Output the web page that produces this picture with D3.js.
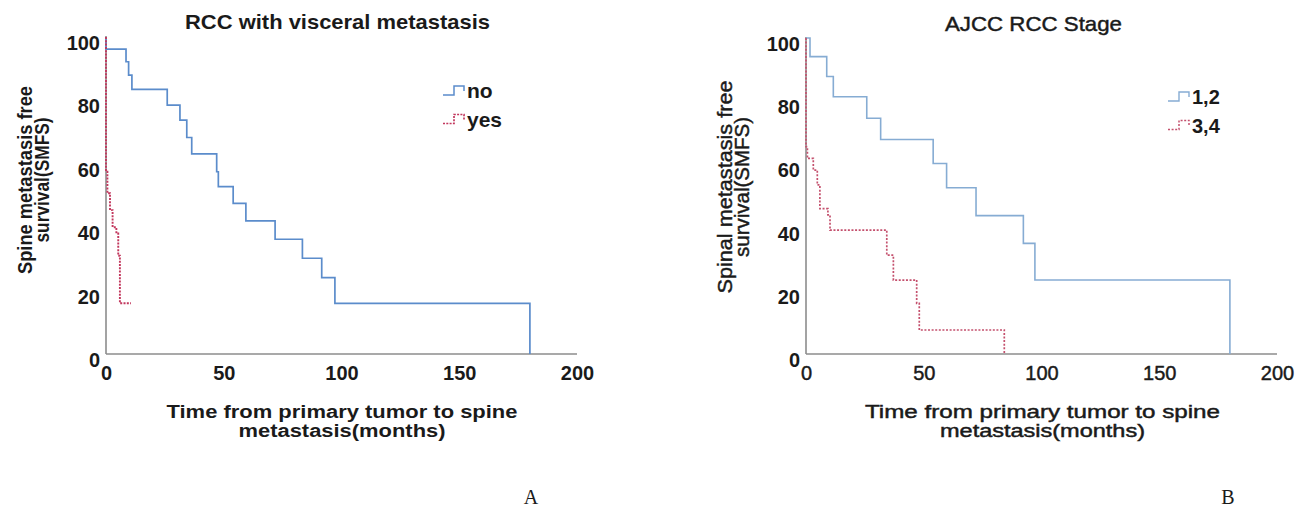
<!DOCTYPE html>
<html>
<head>
<meta charset="utf-8">
<script src="https://cdn.jsdelivr.net/npm/d3@7"></script>
<style>
  html, body { margin: 0; padding: 0; background: #fff; }
  svg { display: block; }
  text { font-family: "Liberation Sans", Arial, sans-serif; fill: #1a1a1a; }
</style>
</head>
<body>
<svg id="chart" width="1308" height="509"></svg>
<script>
// ---------------- DATA ----------------
// Panel A: RCC with visceral metastasis (Kaplan-Meier steps: time, survival from that time)
const noTimes  = [0, 0, 8.5, 9.6, 11, 26, 31.4, 34.3, 36.4, 47, 47.7, 54, 59.4, 71.8, 83.4, 91.6, 97.2, 180];
const noSurv   = [100, 96.2, 92.2, 88, 83.5, 78.5, 73.8, 68.3, 63.1, 57.5, 52.8, 47.5, 42, 36.2, 30.2, 24.1, 16, 0];
const yesTimes = [0, 0, 0.6, 1.7, 2.8, 4.4, 5.2, 5.9, 10.6];
const yesSurv  = [100, 57.5, 50.7, 45.4, 40, 38, 31, 16, 16];

// Panel B: AJCC RCC Stage
const s12Times = [0, 1.7, 8.8, 11.6, 25.8, 31.7, 54, 59.7, 72.2, 92.3, 97.2, 180];
const s12Surv  = [100, 94.1, 87.8, 81.4, 74.6, 67.9, 60.3, 52.6, 43.8, 35, 23.4, 0];
const s34Times = [0, 0, 0.6, 3.1, 4.8, 5.9, 9.3, 10.2, 34.3, 37.1, 47, 48.1, 84.2];
const s34Surv  = [100, 65.6, 61.9, 58.2, 53.5, 46, 44, 39.2, 31.3, 23.4, 16, 7.6, 0];

const xTicks = [0, 50, 100, 150, 200];
const yTicks = [0, 20, 40, 60, 80, 100];

const titleA = "RCC with visceral metastasis";
const titleB = "AJCC RCC Stage";
const legendA = ["no", "yes"];
const legendB = ["1,2", "3,4"];
const yTitleA = ["Spine metastasis free", "survival(SMFS)"];
const yTitleB = ["Spinal metastasis free", "survival(SMFS)"];
const xTitle = ["Time from primary tumor to spine", "metastasis(months)"];

// ---------------- DRAW ----------------
const svg = d3.select("#chart");

function zip(t, s) { return t.map((d, i) => [d, s[i]]); }

function heavy(sel, w) {
  if (w > 0) sel.attr("stroke", "#1a1a1a").attr("stroke-width", w).attr("paint-order", "stroke");
  return sel;
}

function panel(cfg) {
  const x = d3.scaleLinear().domain([0, 200]).range([cfg.x0, cfg.x1]);
  const y = d3.scaleLinear().domain([0, 100]).range([354, cfg.yTop]);
  const g = svg.append("g");

  // y axis labels
  const ya = d3.axisLeft(y).tickValues(yTicks).tickSize(0).tickPadding(6);
  const yg = g.append("g").attr("transform", `translate(${cfg.x0},0)`).call(ya);
  yg.select(".domain").remove();
  yg.selectAll("text").attr("dy", "0.62em")
    .style("font-family", "Liberation Sans, Arial, sans-serif")
    .style("font-size", "20px").style("font-weight", "bold").style("fill", "#1a1a1a");

  // x axis labels
  const xa = d3.axisBottom(x).tickValues(xTicks).tickSize(0).tickPadding(12);
  const xg = g.append("g").attr("transform", `translate(0,354)`).call(xa);
  xg.select(".domain").remove();
  heavy(xg.selectAll("text")
    .style("font-family", "Liberation Sans, Arial, sans-serif")
    .style("font-size", "20px").style("font-weight", cfg.xTickWeight).style("fill", "#1a1a1a"), cfg.heavy);

  // axis lines
  g.append("line").attr("x1", cfg.x0).attr("x2", cfg.x0).attr("y1", y(100) - 1).attr("y2", y(0))
    .attr("stroke", "#8c8c8c").attr("stroke-width", 1.6);
  g.append("line").attr("x1", cfg.x0).attr("x2", cfg.x1).attr("y1", y(0)).attr("y2", y(0))
    .attr("stroke", "#8c8c8c").attr("stroke-width", 1.6);

  const line = d3.line().x(d => x(d[0])).y(d => y(d[1])).curve(d3.curveStepAfter);

  cfg.series.forEach(s => {
    g.append("path").datum(zip(s.t, s.s)).attr("d", line)
      .attr("fill", "none").attr("stroke", s.color).attr("stroke-width", s.w)
      .attr("stroke-dasharray", s.dash || null);
  });

  // title
  heavy(g.append("text").attr("x", cfg.titleX).attr("y", cfg.titleY).attr("text-anchor", "middle")
    .attr("textLength", cfg.titleLen).attr("lengthAdjust", "spacingAndGlyphs")
    .style("font-size", "21px").style("font-weight", cfg.titleWeight).text(cfg.title), cfg.heavy);

  // x title
  cfg.xTitle.forEach((t, i) => {
    heavy(g.append("text").attr("x", cfg.xTitleX).attr("y", 418 + i * 18.5).attr("text-anchor", "middle")
      .attr("textLength", cfg.xTitleLens[i]).attr("lengthAdjust", "spacingAndGlyphs")
      .style("font-size", "18px").style("font-weight", cfg.axisWeight).text(t), cfg.heavy);
  });

  // y title
  cfg.yTitle.forEach((t, i) => {
    const tx = cfg.yTitleX[i] + 7;
    heavy(g.append("text").attr("transform", `translate(${tx},${cfg.yTitleY}) rotate(-90)`)
      .attr("text-anchor", "middle")
      .attr("textLength", cfg.yTitleLens[i]).attr("lengthAdjust", "spacingAndGlyphs")
      .style("font-size", "20px").style("font-weight", cfg.axisWeight).text(t), cfg.heavy);
  });

  // legend
  cfg.series.forEach((s, i) => {
    const ly = cfg.legY + i * 28.5;
    const lx = cfg.legX;
    g.append("path")
      .attr("d", `M${lx},${ly + 4}H${lx + 11}V${ly - 5}H${lx + 21}V${ly}`)
      .attr("fill", "none").attr("stroke", s.color).attr("stroke-width", s.w - 0.2)
      .attr("stroke-dasharray", s.dash || null);
    g.append("text").attr("x", lx + 24).attr("y", ly + 7)
      .style("font-size", cfg.legSize).style("font-weight", "bold").text(cfg.legend[i]);
  });
}

panel({
  x0: 106, x1: 577, yTop: 37, heavy: 0,
  xTickWeight: "bold", axisWeight: "bold", titleWeight: "bold",
  title: titleA, titleX: 337.5, titleY: 29, titleLen: 305,
  xTitle: xTitle, xTitleX: 342, xTitleLens: [351, 207],
  yTitle: yTitleA, yTitleX: [25, 42], yTitleY: 180, yTitleLens: [188, 125],
  legend: legendA, legX: 443, legY: 91, legSize: "21px",
  series: [
    { t: noTimes, s: noSurv, color: "#5b8ccb", w: 1.7 },
    { t: yesTimes, s: yesSurv, color: "#c2375d", w: 1.9, dash: "2,1.3" }
  ]
});

panel({
  x0: 806, x1: 1277, yTop: 38, heavy: 0.45,
  xTickWeight: "normal", axisWeight: "normal", titleWeight: "normal",
  title: titleB, titleX: 1033.5, titleY: 31, titleLen: 177,
  xTitle: xTitle, xTitleX: 1042.5, xTitleLens: [355, 205],
  yTitle: yTitleB, yTitleX: [725, 742], yTitleY: 187, yTitleLens: [213, 140],
  legend: legendB, legX: 1168, legY: 97, legSize: "20px",
  series: [
    { t: s12Times, s: s12Surv, color: "#86acd3", w: 1.6 },
    { t: s34Times, s: s34Surv, color: "#c4506d", w: 1.7, dash: "2,1.6" }
  ]
});

// panel letters
svg.append("text").attr("x", 531).attr("y", 504).attr("text-anchor", "middle")
  .style("font-family", "Liberation Serif, Times New Roman, serif").style("font-size", "20px").text("A");
svg.append("text").attr("x", 1228).attr("y", 504).attr("text-anchor", "middle")
  .style("font-family", "Liberation Serif, Times New Roman, serif").style("font-size", "20px").text("B");
</script>
</body>
</html>
